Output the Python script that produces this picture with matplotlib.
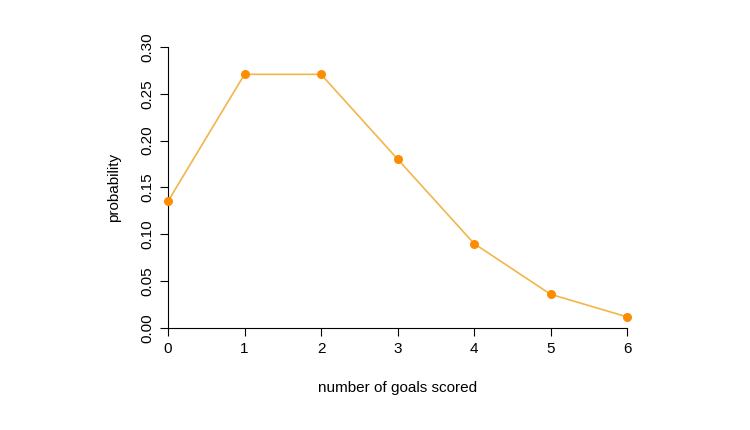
import matplotlib
matplotlib.use('Agg')
import matplotlib.pyplot as plt

plt.rcParams['font.family'] = ['Liberation Sans', 'DejaVu Sans']

# 进球数与概率
goals = [0, 1, 2, 3, 4, 5, 6]
prob = [0.1353, 0.2707, 0.2707, 0.1804, 0.0902, 0.0361, 0.0120]
yticks = [0.00, 0.05, 0.10, 0.15, 0.20, 0.25, 0.30]

fig = plt.figure(figsize=(7.5, 4.3), dpi=100)
ax = fig.add_axes([0.224, 0.237, 0.612, 0.654])

ax.plot(goals, prob, color='#f2b54a', linewidth=1.2, zorder=2)
ax.scatter(goals, prob, color='#ff8c00', s=30, zorder=3, clip_on=False)

ax.set_xlim(0, 6)
ax.set_ylim(0, 0.30)
ax.set_xticks(goals)
ax.set_yticks(yticks)
ax.set_yticklabels(['%.2f' % v for v in yticks], rotation=90, va='center')
ax.tick_params(direction='out', length=6, labelsize=11, pad=4)

for s in ['top', 'right']:
    ax.spines[s].set_visible(False)
ax.spines['left'].set_bounds(0, 0.30)
ax.spines['bottom'].set_bounds(0, 6)

ax.set_xlabel('number of goals scored', fontsize=11, labelpad=18)
ax.set_ylabel('probability', fontsize=11, labelpad=14)

fig.savefig('out.png', dpi=100)
